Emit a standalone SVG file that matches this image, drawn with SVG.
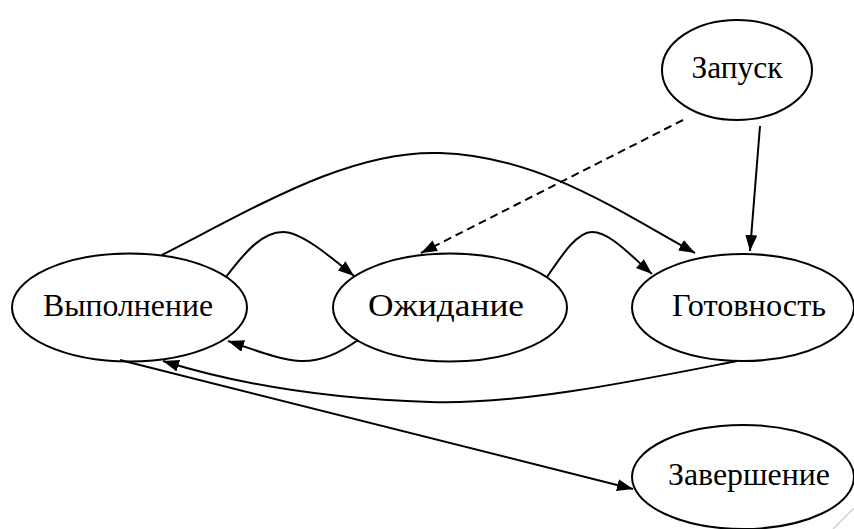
<svg xmlns="http://www.w3.org/2000/svg" width="854" height="529" viewBox="0 0 854 529">
<defs>
<marker id="arr" markerUnits="userSpaceOnUse" markerWidth="17" markerHeight="13" refX="16" refY="6" orient="auto">
<path d="M0,0 L16,6 L0,12 z" fill="#000"/>
</marker>
<style>
.node ellipse{fill:#fff;stroke:#000;stroke-width:2}
.node text{font-family:"Liberation Serif","Times New Roman","DejaVu Serif",serif;font-size:32px;fill:#000;text-anchor:middle}
.edge{fill:none;stroke:#000;stroke-width:2;marker-end:url(#arr)}
.dash{stroke-dasharray:8 5}
</style>
</defs>
<rect width="854" height="529" fill="#fff"/>
<line x1="833" y1="529" x2="854" y2="508" stroke="#d0d0d0" stroke-width="1.5"/>
<g id="n-zapusk" class="node">
<ellipse cx="737" cy="70" rx="75" ry="50"/>
<text x="737" y="78" textLength="91" lengthAdjust="spacingAndGlyphs">Запуск</text>
</g>
<g id="n-vypolnenie" class="node">
<ellipse cx="129.5" cy="307.5" rx="117.5" ry="54"/>
<text x="128" y="316" textLength="170" lengthAdjust="spacingAndGlyphs">Выполнение</text>
</g>
<g id="n-ozhidanie" class="node">
<ellipse cx="450" cy="307.5" rx="117" ry="54"/>
<text x="446" y="316" textLength="156" lengthAdjust="spacingAndGlyphs">Ожидание</text>
</g>
<g id="n-gotovnost" class="node">
<ellipse cx="743" cy="307.5" rx="111" ry="53.5"/>
<text x="749" y="316" textLength="154" lengthAdjust="spacingAndGlyphs">Готовность</text>
</g>
<g id="n-zavershenie" class="node">
<ellipse cx="743" cy="477" rx="111" ry="52"/>
<text x="749" y="485" textLength="162" lengthAdjust="spacingAndGlyphs">Завершение</text>
</g>
<g id="connectors">
<path class="edge" d="M162,255 C260,205 350,150 440,153 C540,156 620,212 695,253"/>
<path class="edge" d="M226,277 C245,252 262,232 283,232 C300,232 325,252 354,276"/>
<path class="edge" d="M358,340 C340,353 320,362 300,361 C280,360 255,350 228,341"/>
<path class="edge" d="M547,277 C562,255 577,232 592,232 C610,232 630,255 652,274"/>
<path class="edge dash" d="M683,120 L421,253"/>
<path class="edge" d="M760,126 L750,251"/>
<path class="edge" d="M737,361 C640,380 520,405 430,402 C330,399 240,385 163,361"/>
<path class="edge" d="M120,360 L633,489"/>
</g>
</svg>
